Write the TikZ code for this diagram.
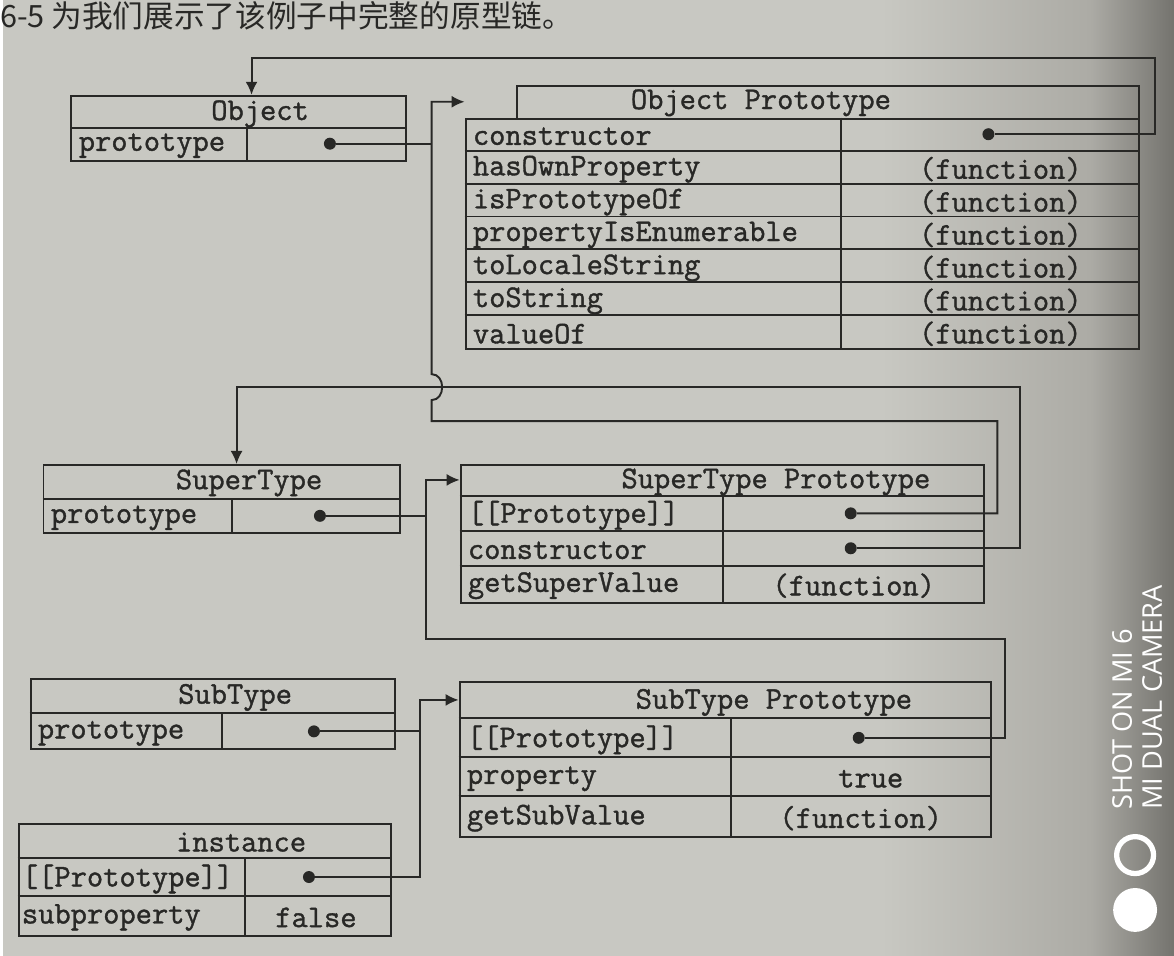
\documentclass[tikz,border=0pt]{standalone}
\usepackage{fontspec}
\newfontfamily\cjkfont{Noto Sans CJK SC}
\newfontfamily\wmfont{Open Sans}
\newfontfamily\codefam{Latin Modern Mono}[FakeBold=1.2]
\usetikzlibrary{arrows.meta}
\definecolor{paper}{RGB}{200,200,194}
\definecolor{papermid}{RGB}{172,171,165}
\definecolor{paperdark}{RGB}{116,115,110}
\definecolor{ink}{RGB}{40,40,38}
\newcommand{\upx}{0.02cm}
\newcommand{\codefont}{\codefam\fontsize{18}{20}\selectfont}

\begin{document}
\begin{tikzpicture}[x=0.02cm, y=-0.02cm,
  tbl/.style={draw=ink, line width=1.1pt, anchor=north west, inner sep=0pt},
  mono/.style={font=\codefont, text=ink, inner sep=0pt, yshift=-2*\upx},
  cell/.style={mono, anchor=west},
  ptr/.style={circle, fill=ink, inner sep=0pt, minimum size=12*\upx},
  link/.style={draw=ink, line width=1.1pt},
  linkarrow/.style={link, -{Latex[length=2.6mm,width=2.4mm]}},
  wmark/.style={rotate=90, anchor=west, text=white, inner sep=0pt,
    font=\wmfont\fontsize{15.5}{18}\selectfont}]
  % page
  \fill[paper] (0,0) rectangle (1174,958);
  \shade[left color=paper, right color=papermid] (880,0) rectangle (1090,958);
  \shade[left color=papermid, right color=paperdark] (1090,0) rectangle (1174,958);
  \node[anchor=west, inner sep=0pt, text=ink,
    font=\cjkfont\fontsize{17.5}{20}\selectfont] (caption) at (-3,16)
    {6-5 为我们展示了该例子中完整的原型链。};

  % Object
  \node[tbl, minimum width=335*\upx, minimum height=65*\upx] (obj) at (68,95) {};
  \draw[link] (68,128) -- (403,128) (245,128) -- (245,160);
  \node[mono] (objT) at (258,112) {Object};
  \node[cell] (objP) at (76,144) {prototype};
  \node[ptr] (objDot) at (328,144) {};

  % Object Prototype
  \node[tbl, minimum width=623*\upx, minimum height=33*\upx] (objpH) at (515,85) {};
  \node[tbl, minimum width=675*\upx, minimum height=231*\upx] (objp) at (463,118) {};
  \node[mono] (objpT) at (760,101) {Object Prototype};
  \draw[link] (840,118) -- (840,349);
  \foreach \i/\t in {0/constructor,1/hasOwnProperty,2/isPrototypeOf,
      3/propertyIsEnumerable,4/toLocaleString,5/toString,6/valueOf}
    \node[cell] (objpR\i) at (471,134.5+33*\i) {\t};
  \foreach \i in {1,...,6} {
    \draw[link] (463,118+33*\i) -- (1138,118+33*\i);
    \node[mono] (objpF\i) at (1000,134.5+33*\i) {(function)};
  }
  \node[ptr] (objpDot) at (988,134.5) {};

  % SuperType
  \node[tbl, minimum width=357*\upx, minimum height=68*\upx] (sup) at (40,465) {};
  \draw[link] (40,500) -- (397,500) (230,500) -- (230,533);
  \node[mono] (supT) at (247,482) {SuperType};
  \node[cell] (supP) at (48,517) {prototype};
  \node[ptr] (supDot) at (318,517) {};

  % SuperType Prototype
  \node[tbl, minimum width=525*\upx, minimum height=138*\upx] (supp) at (458,465) {};
  \draw[link] (458,497) -- (983,497) (458,532) -- (983,532) (458,567) -- (983,567)
    (722,497) -- (722,603);
  \node[mono] (suppT) at (775,481) {SuperType Prototype};
  \node[cell] (suppR1) at (466,514.5) {[[Prototype]]};
  \node[cell] (suppR2) at (466,549.5) {constructor};
  \node[cell] (suppR3) at (466,585) {getSuperValue};
  \node[ptr] (suppProto) at (850,514.5) {};
  \node[ptr] (suppCtor) at (850,549.5) {};
  \node[mono] (suppF) at (853,585) {(function)};

  % SubType
  \node[tbl, minimum width=365*\upx, minimum height=70*\upx] (sub) at (27,680) {};
  \draw[link] (27,715) -- (392,715) (220,715) -- (220,750);
  \node[mono] (subT) at (233,697) {SubType};
  \node[cell] (subP) at (35,733) {prototype};
  \node[ptr] (subDot) at (312,733) {};

  % SubType Prototype
  \node[tbl, minimum width=533*\upx, minimum height=155*\upx] (subp) at (457,683) {};
  \draw[link] (457,720) -- (990,720) (457,759) -- (990,759) (457,798) -- (990,798)
    (730,720) -- (730,838);
  \node[mono] (subpT) at (773,702) {SubType Prototype};
  \node[cell] (subpR1) at (465,739.5) {[[Prototype]]};
  \node[cell] (subpR2) at (465,778.5) {property};
  \node[cell] (subpR3) at (465,818) {getSubValue};
  \node[ptr] (subpProto) at (858,739.5) {};
  \node[mono] (subpV) at (870,778.5) {true};
  \node[mono] (subpF) at (860,818) {(function)};

  % instance
  \node[tbl, minimum width=373*\upx, minimum height=112*\upx] (inst) at (15,825) {};
  \draw[link] (15,860) -- (388,860) (15,898) -- (388,898) (243,860) -- (243,937);
  \node[mono] (instT) at (239,842) {instance};
  \node[cell] (instR1) at (19,879) {[[Prototype]]};
  \node[cell] (instR2) at (19,917.5) {subproperty};
  \node[ptr] (instDot) at (307,879) {};
  \node[mono] (instV) at (314,917.5) {false};

  % links
  \draw[linkarrow] (objpDot) -- (1155,134.5) -- (1155,58) -| ([xshift=13*\upx]obj.north);
  \draw[link] (objDot) -- (430,144);
  \draw[linkarrow] (suppProto) -- (997,514.5) -- (997,422) -- (430,422) -- (430,401)
    .. controls (444,401) and (444,375) .. (430,375) -- (430,102)
    -- ([yshift=16*\upx]objp.north west);
  \draw[linkarrow] (suppCtor) -- (1020,549.5) -- (1020,388) -| ([xshift=15*\upx]sup.north);
  \draw[link] (supDot) -- (424,517);
  \draw[linkarrow] (subpProto) -- (1005,739.5) -- (1005,640) -- (424,640) -- (424,481)
    -- ([yshift=-16*\upx]supp.north west);
  \draw[link] (subDot) -- (418,733);
  \draw[linkarrow] (instDot) -- (418,879) -- (418,701.5)
    -- ([yshift=-18.5*\upx]subp.north west);

  % camera mark
  \node[wmark] (wm1) at (1122,812) {SHOT ON MI 6};
  \node[wmark] (wm2) at (1152,812) {MI DUAL CAMERA};
  \draw[white, line width=3pt] (1135,857) circle[radius=0.37cm];
  \fill[white] (1135,912) circle[radius=0.44cm];
\end{tikzpicture}
\end{document}
